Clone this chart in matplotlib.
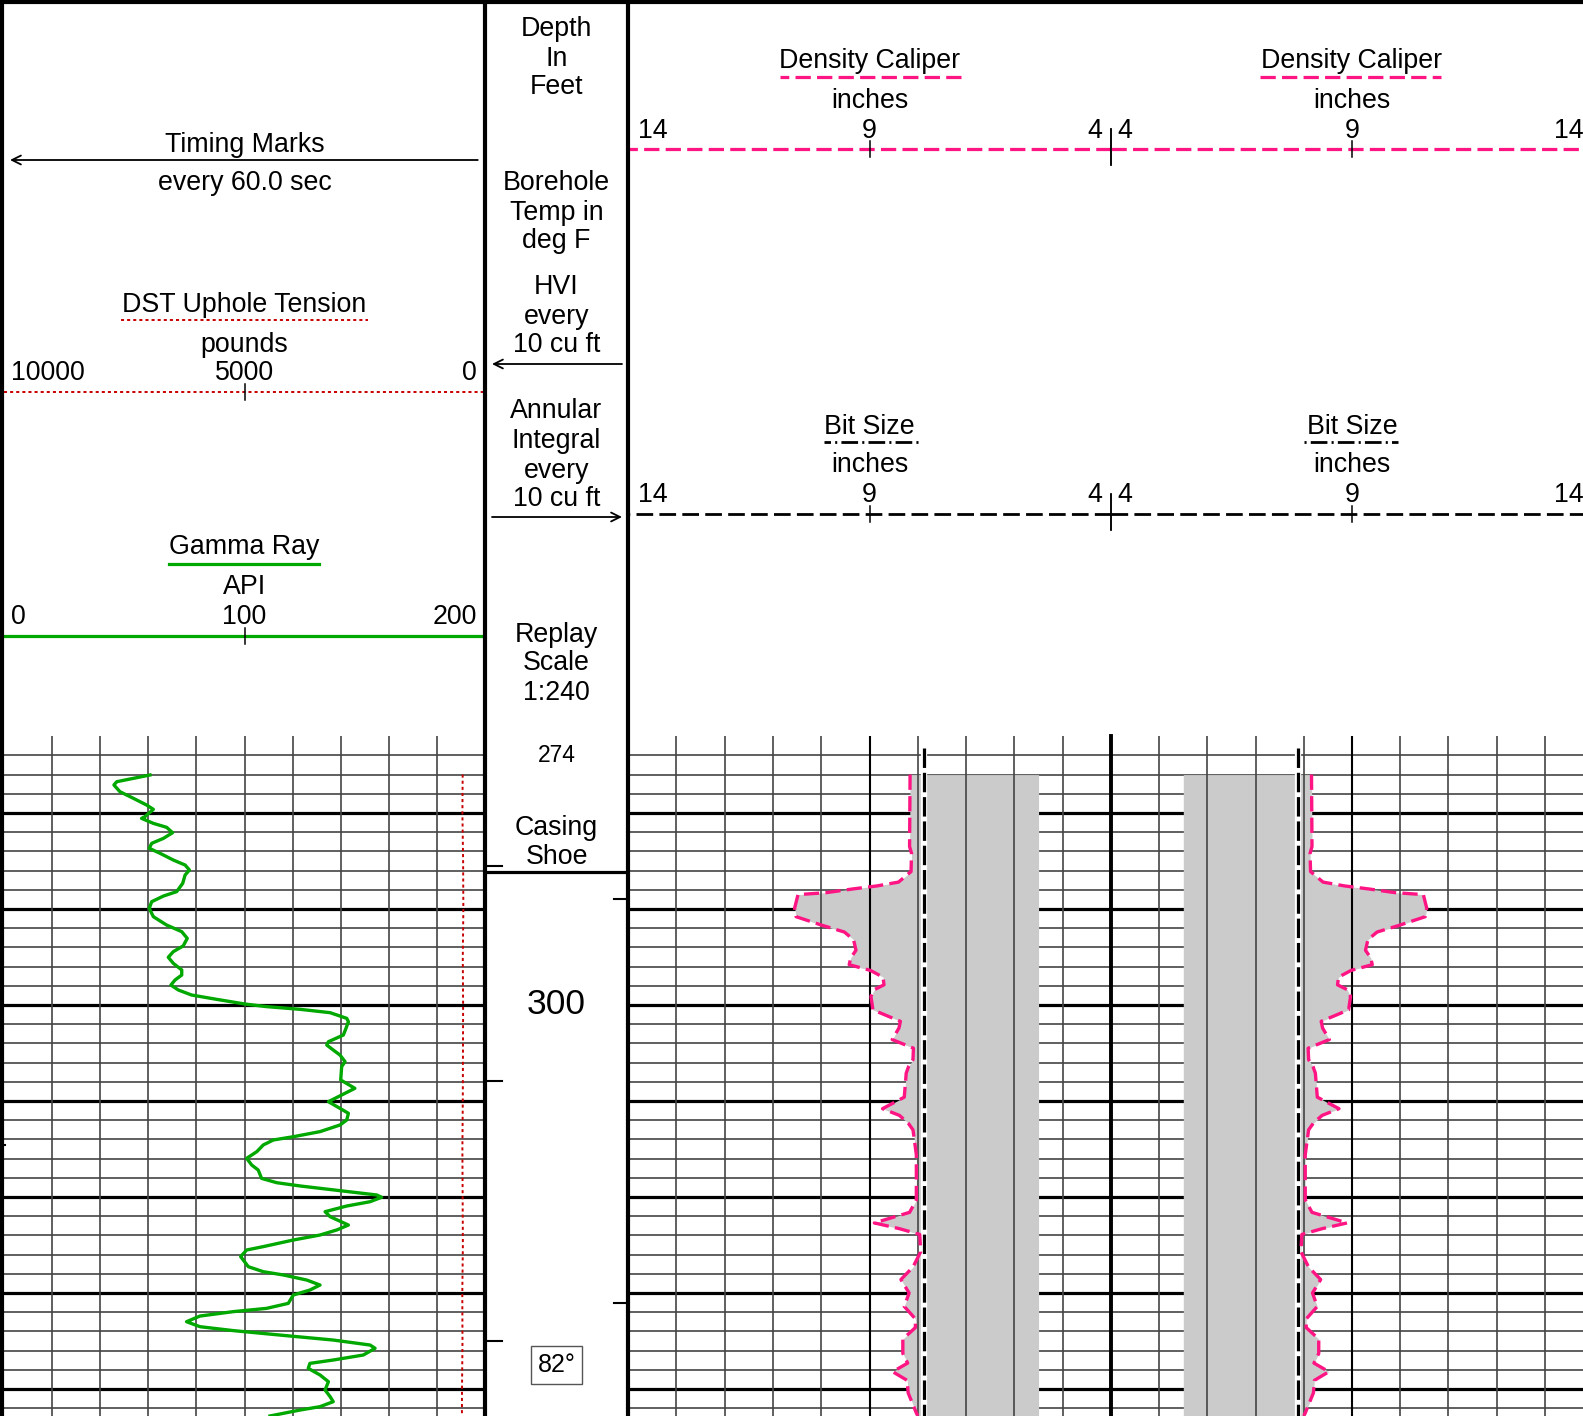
import numpy as np
import matplotlib
matplotlib.use("Agg")
import matplotlib.pyplot as plt

plt.rcParams['font.family'] = ['Liberation Sans', 'DejaVu Sans']
plt.rcParams['lines.scale_dashes'] = False

gr_depth = [276.04, 276.39, 276.74, 277.08, 277.78, 278.47, 279.17, 279.62, 280.38, 280.56,
            281.08, 281.49, 282.05, 282.64, 283.16, 283.68, 284.20, 284.90, 285.42, 285.94,
            286.46, 287.33, 288.19, 288.65, 289.24, 289.93, 290.80, 291.67, 292.36, 293.06,
            293.85, 294.44, 295.03, 295.66, 296.35, 296.88, 297.40, 297.92, 298.44, 298.96,
            299.41, 299.90, 300.17, 300.45, 300.80, 301.39, 301.74, 302.43, 303.13, 303.82,
            304.17, 304.69, 305.21, 305.90, 306.42, 307.81, 308.68, 310.07, 311.28, 311.98,
            312.50, 313.19, 313.72, 314.06, 314.58, 315.28, 315.97, 316.67, 317.19, 318.06,
            318.51, 318.85, 319.34, 319.79, 320.03, 320.49, 320.94, 321.53, 322.05, 322.92,
            323.44, 323.96, 324.48, 325.17, 325.52, 326.21, 327.26, 327.78, 328.12, 328.65,
            329.17, 329.69, 330.21, 331.08, 331.60, 331.94, 332.40, 332.99, 333.51, 333.92,
            334.48, 334.90, 335.42, 335.76, 336.46, 336.98, 337.33, 337.85, 338.54, 339.24,
            340.10, 340.80, 341.32, 341.84, 342.19, 342.81]
gr_api = [60.7, 53.8, 46.9, 45.7, 48.2, 53.8, 59.3, 62.1, 58.6, 57.2,
          62.1, 67.6, 70.1, 66.3, 61.4, 60.4, 64.9, 70.4, 75.3, 77.1,
          75.3, 74.3, 71.8, 66.3, 61.4, 60.4, 62.1, 67.6, 73.9, 76.2,
          74.5, 70.4, 68.3, 70.4, 73.9, 73.9, 71.1, 69.4, 72.5, 78.0,
          88.4, 100.2, 109.2, 123.1, 135.6, 142.5, 143.2, 142.2, 141.1, 134.9,
          134.2, 136.9, 139.7, 141.8, 140.4, 140.0, 145.9, 134.9, 143.2, 142.5,
          139.7, 131.4, 120.3, 112.0, 107.8, 105.1, 100.9, 103.0, 105.7, 107.1,
          113.4, 123.1, 139.7, 155.0, 157.0, 152.2, 142.5, 133.5, 135.6, 143.2,
          138.3, 131.4, 120.3, 107.8, 100.9, 98.4, 101.6, 107.8, 116.1, 125.9,
          131.4, 127.2, 120.3, 118.2, 109.2, 95.4, 81.5, 75.9, 81.5, 95.4,
          118.9, 136.9, 152.2, 154.3, 149.4, 136.9, 127.2, 126.5, 131.4, 134.9,
          133.5, 135.6, 136.9, 131.4, 123.1, 110.6]

tension_depth = [276, 280, 285, 290, 295, 300, 305, 310, 315, 320, 325, 330, 335, 340, 342.8]
tension_lb = [464, 470, 455, 450, 462, 455, 458, 462, 470, 465, 460, 472, 468, 478, 480]

cal_depth = [276.0, 283.5, 284.2, 286.1, 287.2, 287.6, 287.9, 288.3, 288.5, 289.9,
             290.8, 291.7, 292.4, 293.2, 294.3, 295.1, 295.8, 296.4, 297.1, 297.9,
             298.4, 299.1, 300.5, 301.2, 301.7, 302.4, 303.6, 304.5, 305.7, 306.4,
             307.1, 309.6, 310.8, 311.5, 312.3, 313.0, 314.1, 315.6, 320.3, 321.6,
             322.7, 323.3, 323.9, 325.7, 327.3, 328.6, 330.0, 331.4, 332.7, 333.6,
             334.8, 336.3, 337.3, 338.2, 339.1, 340.4, 342.5, 342.8]
cal_in = [8.16, 8.17, 8.13, 8.14, 8.40, 8.85, 9.33, 9.90, 10.48, 10.55,
          10.52, 9.98, 9.52, 9.33, 9.28, 9.39, 9.42, 8.98, 8.72, 8.70,
          8.90, 8.97, 8.93, 8.60, 8.36, 8.39, 8.53, 8.09, 8.10, 8.19,
          8.24, 8.28, 8.73, 8.38, 8.20, 8.10, 8.07, 8.03, 8.03, 8.17,
          8.90, 8.38, 7.96, 7.94, 8.10, 8.35, 8.18, 8.28, 8.05, 8.05,
          8.31, 8.31, 8.21, 8.52, 8.22, 8.20, 8.03, 8.00]

bit_size = 7.875
bit_top = 273.2
tool_od = 5.5
casing_shoe = 286.1
depth_labels = [274, 300]
temp_depth, temp_f = 337.5, 82
timing_marks = [314.6]
left_marks = [285.5, 307.9, 335.0]
right_marks = [289.0, 331.0]

# ---- layout (pixels) ----
W, H = 1583, 1416
X_GR0, X_DEP0, X_DEP1, X_MID, X_CAL1 = 4, 485, 628, 1111, 1593
Y_LOG = 736
DEPTH_TOP = 300 + (Y_LOG - 1005) / 9.6
DEPTH_BOT = 300 + (H - 1005) / 9.6

PINK = '#ff1484'
GREEN = '#00a800'
RED = '#c80000'
FS = 19.3
DY = 2.5

fig = plt.figure(figsize=(W / 100, H / 100), dpi=100)


def px_axes(x0, x1, y0, y1):
    ax = fig.add_axes([x0 / W, 1 - y1 / H, (x1 - x0) / W, (y1 - y0) / H])
    ax.set_axis_off()
    return ax


def depth_grid(ax):
    for d in np.arange(274, 343, 2):
        thick = d % 10 == 0
        ax.axhline(d, color='black' if thick else '#444444', lw=2.3 if thick else 1.2, zorder=1)


def label(ax, x, y, s, ha='center', **kw):
    ax.text(x, y + DY, s, ha=ha, va='center', fontsize=kw.pop('fontsize', FS), **kw)


def text_lines(ax, x, ys, lines):
    for y, s in zip(ys, lines):
        label(ax, x, y, s)


# ---- log tracks ----
ax_gr = px_axes(X_GR0, X_DEP0, Y_LOG, H)
ax_gr.set_xlim(0, 200)
ax_gr.set_ylim(DEPTH_BOT, DEPTH_TOP)
depth_grid(ax_gr)
for v in np.arange(20, 200, 20):
    ax_gr.axvline(v, color='#444444', lw=1.2, zorder=1)
ax_gr.plot(gr_api, gr_depth, color=GREEN, lw=2.4, zorder=5, solid_joinstyle='round')
# tension uses the 10000 -> 0 scale on the same track
ax_gr.plot([200 - t / 50 for t in tension_lb], tension_depth, color=RED, lw=1.4,
           dashes=(2.2, 2.2), zorder=4)
for d in timing_marks:
    ax_gr.plot([-1.7, 0.5], [d, d], color='black', lw=1.5, clip_on=False)

ax_dep = px_axes(X_DEP0, X_DEP1, Y_LOG, H)
ax_dep.set_xlim(0, 1)
ax_dep.set_ylim(DEPTH_BOT, DEPTH_TOP)
ax_dep.text(0.5, depth_labels[0], str(depth_labels[0]), ha='center', va='center', fontsize=16.5)
ax_dep.text(0.5, depth_labels[1], str(depth_labels[1]), ha='center', va='center', fontsize=25.5)
ax_dep.text(0.5, casing_shoe - 4.5, 'Casing', ha='center', va='center', fontsize=FS)
ax_dep.text(0.5, casing_shoe - 1.55, 'Shoe', ha='center', va='center', fontsize=FS)
ax_dep.axhline(casing_shoe, color='black', lw=2.3)
ax_dep.text(0.5, temp_depth, f'{temp_f}°', ha='center', va='center', fontsize=18,
            bbox=dict(boxstyle='square,pad=0.28', fc='white', ec='#555555', lw=1.0))
for d in left_marks:
    ax_dep.plot([0, 0.12], [d, d], color='black', lw=1.5)
for d in right_marks:
    ax_dep.plot([0.9, 1.0], [d, d], color='black', lw=1.5)

for x0, x1, lim in [(X_DEP1, X_MID, (14, 4)), (X_MID, X_CAL1, (4, 14))]:
    ax = px_axes(x0, x1, Y_LOG, H)
    ax.set_xlim(*lim)
    ax.set_ylim(DEPTH_BOT, DEPTH_TOP)
    depth_grid(ax)
    ax.fill_betweenx(cal_depth, cal_in, tool_od, color='#cbcbcb', lw=0, zorder=2)
    for v in range(5, 14):
        ax.axvline(v, color='black' if v == 9 else '#444444', lw=1.5 if v == 9 else 1.2, zorder=3)
    ax.plot([bit_size, bit_size], [bit_top, DEPTH_BOT], color='white', lw=4.5, zorder=4)
    ax.plot([bit_size, bit_size], [bit_top, DEPTH_BOT], color='black', lw=2.3,
            dashes=(14, 3.5), zorder=4)
    ax.plot(cal_in, cal_depth, color=PINK, lw=2.4, dashes=(11, 4.5), zorder=5)

# ---- headers ----
hd = px_axes(X_GR0, X_DEP0, 0, Y_LOG)
hd.set_xlim(0, 200)
hd.set_ylim(Y_LOG, 0)
arrow = dict(arrowstyle='->', lw=1.3, color='black', shrinkA=0, shrinkB=0, mutation_scale=16)
label(hd, 100, 142, 'Timing Marks')
hd.annotate('', xy=(2.5, 160), xytext=(197, 160), arrowprops=arrow)
label(hd, 100, 181, 'every 60.0 sec')
label(hd, 100, 302, 'DST Uphole Tension')
hd.plot([48.6, 151.4], [320, 320], color=RED, lw=1.4, dashes=(2.2, 2.2))
label(hd, 100, 342, 'pounds')
label(hd, 2.8, 370, '10000', ha='left')
label(hd, 100, 370, '5000')
label(hd, 196.5, 370, '0', ha='right')
hd.plot([0, 200], [392, 392], color=RED, lw=1.4, dashes=(2.2, 2.2))
hd.plot([100, 100], [384, 400], color='black', lw=1.1)
label(hd, 100, 545, 'Gamma Ray')
hd.plot([68.5, 131], [564, 564], color=GREEN, lw=2.3)
label(hd, 100, 584, 'API')
label(hd, 2.8, 614, '0', ha='left')
label(hd, 100, 614, '100')
label(hd, 196.5, 614, '200', ha='right')
hd.plot([0, 200], [636, 636], color=GREEN, lw=2.3)
hd.plot([100, 100], [628, 644], color='black', lw=1.1)

hd = px_axes(X_DEP0, X_DEP1, 0, Y_LOG)
hd.set_xlim(X_DEP0, X_DEP1)
hd.set_ylim(Y_LOG, 0)
xc = (X_DEP0 + X_DEP1) / 2
text_lines(hd, xc, [26, 56, 85], ['Depth', 'In', 'Feet'])
text_lines(hd, xc, [181, 210, 239], ['Borehole', 'Temp in', 'deg F'])
text_lines(hd, xc, [285, 314, 343], ['HVI', 'every', '10 cu ft'])
text_lines(hd, xc, [409, 438, 468, 497], ['Annular', 'Integral', 'every', '10 cu ft'])
text_lines(hd, xc, [632, 661, 690], ['Replay', 'Scale', '1:240'])
hd.annotate('', xy=(492, 364), xytext=(622, 364), arrowprops=arrow)
hd.annotate('', xy=(622, 517), xytext=(492, 517), arrowprops=arrow)

for x0, x1, lim, side in [(X_DEP1, X_MID, (14, 4), 'left'), (X_MID, X_CAL1, (4, 14), 'right')]:
    hd = px_axes(x0, x1, 0, Y_LOG)
    hd.set_xlim(*lim)
    hd.set_ylim(Y_LOG, 0)
    for y0, name in [(59, 'Density Caliper'), (424, 'Bit Size')]:
        label(hd, 9, y0, name)
        label(hd, 9, y0 + 39, 'inches')
        yl = y0 + 69
        label(hd, 13.8, yl, '14', ha='left' if side == 'left' else 'right')
        label(hd, 9, yl, '9')
        label(hd, 4.18 if side == 'left' else 4.13, yl, '4',
              ha='right' if side == 'left' else 'left')
        ys = y0 + 90
        if name == 'Density Caliper':
            hd.plot([7.1, 10.85], [y0 + 18, y0 + 18], color=PINK, lw=2.3, dashes=(11, 4.5))
            hd.plot([4, 14], [ys, ys], color=PINK, lw=2.3, dashes=(11, 4.5))
        else:
            hd.plot([8.0, 9.95], [y0 + 18, y0 + 18], color='black', lw=2.0,
                    dashes=(1.5, 3, 12, 3))
            hd.plot([4, 14], [ys, ys], color='black', lw=2.0, dashes=(12, 4.5))
        hd.plot([9, 9], [ys - 8, ys + 8], color='black', lw=1.1)
        hd.plot([4, 4], [ys - 20, ys + 16], color='black', lw=1.1, clip_on=False)

# ---- track borders ----
fr = px_axes(0, W, 0, H)
fr.set_xlim(0, W)
fr.set_ylim(H, 0)
fr.plot([0, W], [1.5, 1.5], color='black', lw=3)
for x in [2.5, X_DEP0, X_DEP1]:
    fr.plot([x, x], [0, H], color='black', lw=3)
fr.plot([X_MID, X_MID], [Y_LOG, H], color='black', lw=2.8)

fig.savefig('out.png', dpi=100)
